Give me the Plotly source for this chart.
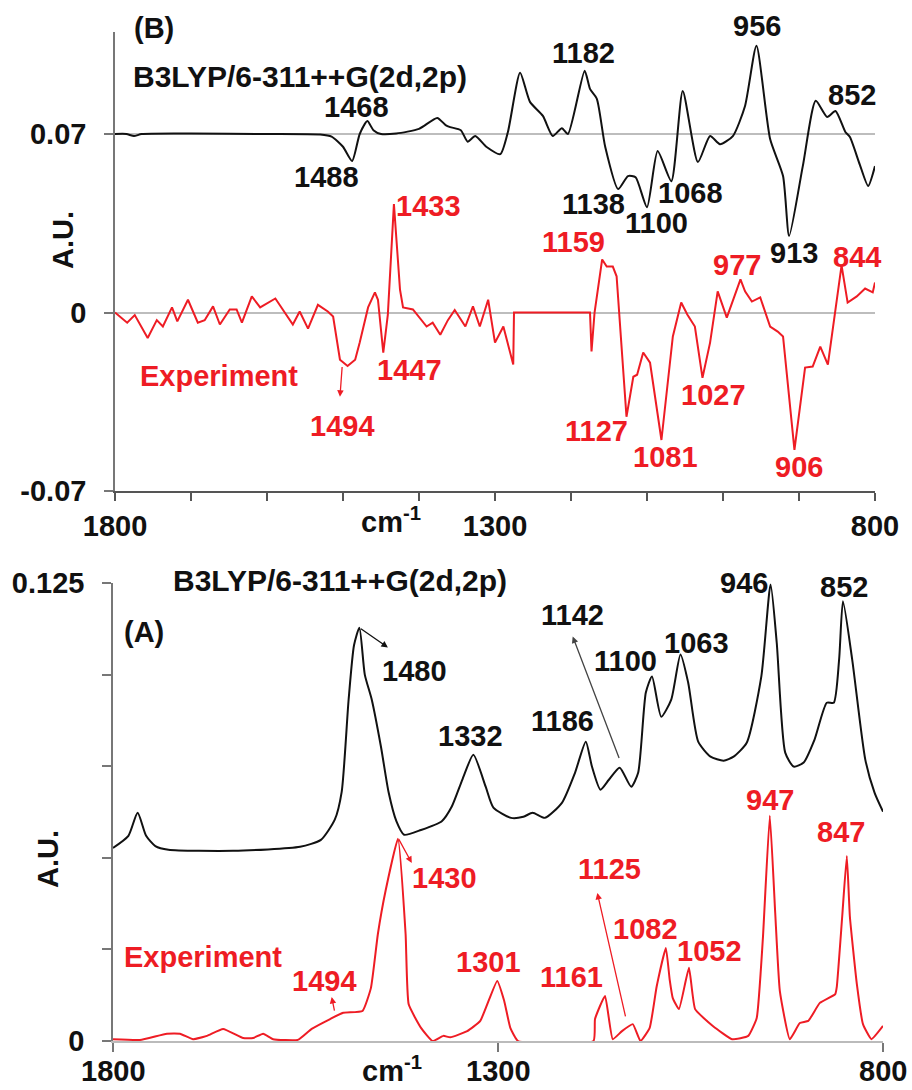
import plotly.graph_objects as go

# ---------------- spectra (wavenumber in cm-1, intensity in A.U.) ----------------
# Panel B: calculated (B3LYP) and experimental difference spectra
calc_b_wn = [1800, 1785, 1775, 1765, 1700, 1600, 1530, 1515, 1500, 1488, 1478, 1468, 1460, 1450,
             1430, 1400, 1376, 1365, 1359, 1345, 1336, 1326, 1311, 1293, 1283, 1267, 1254, 1237,
             1224, 1212, 1204, 1182, 1175, 1166, 1155, 1138, 1125, 1115, 1100, 1086, 1068, 1053,
             1033, 1017, 1004, 987, 971, 956, 938, 921, 913, 895, 878, 863, 852, 839, 833, 820,
             809, 800]
calc_b_au = [0.0700, 0.0700, 0.0692, 0.0700, 0.0702, 0.0700, 0.0698, 0.0690, 0.0650, 0.0594,
             0.0700, 0.0751, 0.0715, 0.0700, 0.0702, 0.0720, 0.0763, 0.0735, 0.0727, 0.0715,
             0.0670, 0.0692, 0.0649, 0.0621, 0.0708, 0.0940, 0.0826, 0.0771, 0.0692, 0.0723,
             0.0700, 0.0948, 0.0877, 0.0838, 0.0650, 0.0484, 0.0535, 0.0530, 0.0413, 0.0633,
             0.0515, 0.0869, 0.0590, 0.0692, 0.0660, 0.0692, 0.0810, 0.1046, 0.0680, 0.0535,
             0.0300, 0.0574, 0.0830, 0.0767, 0.0790, 0.0708, 0.0688, 0.0580, 0.0496, 0.0574]

exp_b_wn = [1800, 1784, 1774, 1757, 1745, 1737, 1725, 1718, 1704, 1691, 1682, 1671, 1662, 1649,
            1640, 1633, 1620, 1609, 1589, 1579, 1566, 1557, 1546, 1533, 1520, 1513, 1504, 1494,
            1484, 1478, 1467, 1458, 1454, 1447, 1441, 1433, 1425, 1421, 1408, 1390, 1382, 1372,
            1362, 1353, 1339, 1329, 1320, 1309, 1300, 1289, 1276, 1275, 1175, 1173, 1169, 1159,
            1153, 1145, 1140, 1127, 1118, 1113, 1105, 1096, 1081, 1066, 1055, 1047, 1037, 1027,
            1017, 1007, 995, 977, 971, 962, 951, 938, 928, 921, 906, 892, 882, 872, 862, 844,
            836, 824, 813, 803, 800]
exp_b_au = [0.0, -0.0040, -0.0010, -0.0100, -0.0030, -0.0055, 0.0020, -0.0035, 0.0050, -0.0040,
            -0.0030, 0.0024, -0.0047, 0.0012, 0.0012, -0.0040, 0.0063, 0.0020, 0.0055, 0.0012,
            -0.0047, 0.0004, -0.0063, 0.0030, 0.0004, -0.0016, -0.0185, -0.0210, -0.0185,
            -0.0118, 0.0020, 0.0079, 0.0050, -0.0157, -0.0008, 0.0425, 0.0090, 0.0020, 0.0012,
            -0.0055, -0.0040, -0.0087, -0.0030, 0.0010, -0.0055, 0.0024, -0.0055, 0.0050,
            -0.0118, -0.0055, -0.0204, 0.0, 0.0, -0.0153, 0.0, 0.0208, 0.0180, 0.0180, 0.0142,
            -0.0409, -0.0252, -0.0244, -0.0157, -0.0197, -0.0500, -0.0094, 0.0039, -0.0008,
            -0.0055, -0.0256, -0.0118, 0.0083, -0.0020, 0.0130, 0.0083, 0.0043, 0.0059, -0.0055,
            -0.0075, -0.0094, -0.0539, -0.0216, -0.0212, -0.0134, -0.0204, 0.0185, 0.0039,
            0.0063, 0.0094, 0.0079, 0.0118]

# Panel A: calculated (B3LYP) and experimental spectra
calc_a_wn = [1800, 1780, 1768, 1757, 1745, 1728, 1644, 1557, 1530, 1512, 1503, 1494, 1487, 1480,
             1473, 1464, 1452, 1442, 1432, 1422, 1400, 1373, 1360, 1346, 1332, 1316, 1306, 1283,
             1267, 1255, 1239, 1217, 1200, 1186, 1178, 1167, 1156, 1142, 1127, 1118, 1108, 1100,
             1088, 1075, 1063, 1053, 1040, 1024, 1007, 994, 977, 958, 946, 938, 927, 916, 903,
             889, 873, 864, 857, 852, 840, 823, 811, 800]
calc_a_au = [0.0527, 0.0560, 0.0623, 0.0560, 0.0532, 0.0522, 0.0519, 0.0530, 0.0549, 0.0604,
             0.0680, 0.0932, 0.1080, 0.1128, 0.1000, 0.0932, 0.0803, 0.0678, 0.0600, 0.0563,
             0.0576, 0.0600, 0.0640, 0.0715, 0.0781, 0.0694, 0.0637, 0.0609, 0.0612, 0.0623,
             0.0609, 0.0650, 0.0732, 0.0817, 0.0749, 0.0686, 0.0713, 0.0746, 0.0694, 0.0732,
             0.0951, 0.0995, 0.0885, 0.0932, 0.1055, 0.0978, 0.0817, 0.0776, 0.0765, 0.0776,
             0.0814, 0.0995, 0.1246, 0.1087, 0.0787, 0.0749, 0.0760, 0.0822, 0.0923, 0.0923,
             0.1041, 0.1200, 0.1041, 0.0768, 0.0678, 0.0626]

exp_a_wn = [1800, 1765, 1730, 1713, 1696, 1678, 1657, 1631, 1618, 1605, 1592, 1560, 1542, 1518,
            1501, 1476, 1465, 1456, 1446, 1430, 1420, 1416, 1400, 1385, 1371, 1362, 1340, 1323,
            1301, 1292, 1284, 1274, 1176, 1174, 1161, 1151, 1139, 1125, 1115, 1103, 1094, 1082,
            1077, 1073, 1065, 1052, 1044, 1021, 996, 975, 964, 956, 947, 940, 934, 921, 908, 897,
            882, 862, 860, 853, 847, 843, 834, 826, 815, 800]
exp_a_au = [0.0005, 0.0003, 0.0020, 0.0020, 0.0005, 0.0014, 0.0033, 0.0008, 0.0008, 0.0020,
            0.0005, 0.0003, 0.0033, 0.0060, 0.0077, 0.0082, 0.0145, 0.0292, 0.0410, 0.0552,
            0.0292, 0.0100, 0.0036, 0.0, 0.0014, 0.0010, 0.0027, 0.0055, 0.0164, 0.0110, 0.0036,
            0.0, 0.0, 0.0060, 0.0123, 0.0005, 0.0027, 0.0046, 0.0, 0.0036, 0.0148, 0.0254,
            0.0167, 0.0117, 0.0087, 0.0200, 0.0087, 0.0041, 0.0005, 0.0014, 0.0063, 0.0280,
            0.0615, 0.0350, 0.0137, 0.0005, 0.0049, 0.0055, 0.0104, 0.0128, 0.0148, 0.0339,
            0.0505, 0.0339, 0.0156, 0.0046, 0.0005, 0.0041]

# labelled wavenumbers on the lower axis
bottom_x_ticks = [1800, 1300, 800]

BLACK = "#111111"
RED = "#ee1c24"
FONT = "Liberation Sans, Arial, sans-serif"
W, H = 912, 1090

fig = go.Figure()
fig.add_trace(go.Scatter(x=calc_b_wn, y=calc_b_au, mode="lines", xaxis="x", yaxis="y",
                         line=dict(color=BLACK, width=2, shape="spline", smoothing=0.6),
                         showlegend=False))
fig.add_trace(go.Scatter(x=exp_b_wn, y=exp_b_au, mode="lines", xaxis="x", yaxis="y",
                         line=dict(color=RED, width=2), showlegend=False))
fig.add_trace(go.Scatter(x=calc_a_wn, y=calc_a_au, mode="lines", xaxis="x2", yaxis="y2",
                         line=dict(color=BLACK, width=2, shape="spline", smoothing=0.6),
                         showlegend=False))
fig.add_trace(go.Scatter(x=exp_a_wn, y=exp_a_au, mode="lines", xaxis="x2", yaxis="y2",
                         line=dict(color=RED, width=2, shape="spline", smoothing=0.4),
                         showlegend=False))

# ---------------- text labels ----------------
# labels placed in axis units
labels_b = [
    ("1468", 1482, 0.0806, BLACK), ("1488", 1522, 0.0531, BLACK),
    ("1182", 1184, 0.1018, BLACK), ("852", 830, 0.0853, BLACK),
    ("1138", 1171, 0.0425, BLACK), ("1100", 1087, 0.0350, BLACK), ("1068", 1043, 0.0468, BLACK),
    ("913", 907, 0.0232, BLACK),
    ("1433", 1387, 0.0417, RED), ("1447", 1412, -0.0224, RED), ("1494", 1501, -0.0444, RED),
    ("Experiment", 1663, -0.0248, RED), ("1159", 1197, 0.0275, RED), ("1127", 1166, -0.0464, RED),
    ("1081", 1076, -0.0566, RED), ("1027", 1013, -0.0322, RED), ("977", 982, 0.0185, RED),
    ("906", 900, -0.0606, RED), ("844", 824, 0.0216, RED),
]
labels_a = [
    ("(A)", 1760, 0.1115, BLACK), ("1480", 1408, 0.1011, BLACK), ("1332", 1336, 0.0833, BLACK),
    ("1186", 1216, 0.0872, BLACK), ("1142", 1203, 0.1164, BLACK), ("1100", 1135, 0.1038, BLACK),
    ("1063", 1042, 0.1087, BLACK), ("852", 851, 0.1240, BLACK),
    ("1430", 1369, 0.0445, RED), ("Experiment", 1683, 0.0230, RED), ("1494", 1525, 0.0164, RED),
    ("1301", 1312, 0.0216, RED), ("1161", 1204, 0.0175, RED), ("1125", 1155, 0.0470, RED),
    ("1082", 1108, 0.0306, RED), ("1052", 1025, 0.0246, RED), ("947", 947, 0.0658, RED),
    ("847", 855, 0.0571, RED),
]
# labels sitting above the plotting ranges, placed in page pixels
labels_px = [("(B)", 154, 28, BLACK, "center", 29), ("956", 757, 26, BLACK, "center", 29),
             ("946", 744, 583, BLACK, "center", 29),
             ("B3LYP/6-311++G(2d,2p)", 131, 77, BLACK, "left", 30),
             ("B3LYP/6-311++G(2d,2p)", 171, 580, BLACK, "left", 30)]
# arrows: (tail wn, tail au, head wn, head au, colour)
arrows_b = [(1501, -0.0208, 1504, -0.0330, RED)]
arrows_a = [
    (1480, 0.1128, 1443, 0.1074, BLACK), (1142, 0.0768, 1203, 0.1104, "#444444"),
    (1430, 0.0555, 1412, 0.0486, RED), (1134, 0.0063, 1171, 0.0404, RED),
    (1512, 0.0079, 1516, 0.0120, RED),
]

LABEL_SIZE = 29
annotations = []
def add_labels(items, xr, yr):
    for txt, x, y, c in items:
        annotations.append(dict(text=txt, x=x, y=y, xref=xr, yref=yr, showarrow=False,
                                xanchor="center", yanchor="middle",
                                font=dict(family=FONT, size=LABEL_SIZE, color=c, weight="bold")))

def add_arrows(items, xr, yr):
    for x0, y0, x1, y1, c in items:
        annotations.append(dict(text="", x=x1, y=y1, ax=x0, ay=y0, xref=xr, yref=yr,
                                axref=xr, ayref=yr, showarrow=True, arrowhead=2,
                                arrowsize=1, arrowwidth=1.3, arrowcolor=c, standoff=0))

add_labels(labels_b, "x", "y")
add_labels(labels_a, "x2", "y2")
add_arrows(arrows_b, "x", "y")
add_arrows(arrows_a, "x2", "y2")
for txt, px, py, c, anchor, size in labels_px:
    annotations.append(dict(text=txt, x=px / W, y=1 - py / H, xref="paper", yref="paper",
                            showarrow=False, xanchor=anchor, yanchor="middle",
                            font=dict(family=FONT, size=size, color=c, weight="bold")))
# lower-axis tick labels, kept just inside the page edge
for v in bottom_x_ticks:
    annotations.append(dict(text=str(v), x=v, y=1 - 1071 / H, xref="x2", yref="paper",
                            showarrow=False, xanchor="center", yanchor="middle",
                            font=dict(family=FONT, size=LABEL_SIZE, color=BLACK, weight="bold")))
# axis titles
for px, py in [(63, 240), (48, 859)]:
    annotations.append(dict(text="A.U.", x=px / W, y=1 - py / H, xref="paper", yref="paper",
                            showarrow=False, textangle=-90, xanchor="center", yanchor="middle",
                            font=dict(family=FONT, size=LABEL_SIZE, color=BLACK, weight="bold")))
for px, py in [(391, 520), (392, 1069)]:
    annotations.append(dict(text="cm<sup>-1</sup>", x=px / W, y=1 - py / H, xref="paper",
                            yref="paper", showarrow=False, xanchor="center", yanchor="middle",
                            font=dict(family=FONT, size=LABEL_SIZE, color=BLACK, weight="bold")))

tickfont = dict(family=FONT, size=29, color=BLACK, weight="bold")
top_x_ticks = list(range(1800, 799, -100))

fig.update_layout(
    width=W, height=H, margin=dict(l=0, r=0, t=0, b=0, autoexpand=False),
    paper_bgcolor="white", plot_bgcolor="white",
    annotations=annotations,
    xaxis=dict(domain=[115 / W, 875 / W], anchor="y", range=[1800, 800], automargin=False,
               showgrid=False, zeroline=False, showline=True, linecolor="#555555", linewidth=1.5,
               ticks="outside", ticklen=8, tickcolor="#555555", tickwidth=1.5,
               tickvals=top_x_ticks,
               ticktext=[str(v) if v in (1800, 1300, 800) else "" for v in top_x_ticks],
               tickfont=tickfont, ticklabelstandoff=0),
    yaxis=dict(domain=[1 - 491 / H, 1 - 32 / H], anchor="x", range=[-0.07, 0.11],
               automargin=False,
               showgrid=True, gridcolor="#bdbdbd", gridwidth=1.5, zeroline=False,
               showline=True, linecolor="#777777", linewidth=1.5,
               ticks="outside", ticklen=9, tickcolor="#777777", tickwidth=1.5,
               tickvals=[-0.07, 0, 0.07], ticktext=["-0.07", "0", "0.07"],
               tickfont=tickfont, ticklabelstandoff=12),
    xaxis2=dict(domain=[113 / W, 883 / W], anchor="y2", range=[1800, 800], automargin=False,
                showgrid=False, zeroline=False, showline=True, linecolor="#bbbbbb", linewidth=1.5,
                ticks="outside", ticklen=9, tickcolor="#777777", tickwidth=1.5,
                tickvals=bottom_x_ticks, showticklabels=False),
    yaxis2=dict(domain=[1 - 1041 / H, 1 - 583 / H], anchor="x2", range=[0, 0.125],
                automargin=False,
                showgrid=False, zeroline=False, showline=True, linecolor="#777777", linewidth=1.5,
                ticks="outside", ticklen=9, tickcolor="#777777", tickwidth=1.5,
                tickvals=[0, 0.025, 0.05, 0.075, 0.1, 0.125],
                ticktext=["0", "", "", "", "", "0.125"],
                tickfont=tickfont, ticklabelstandoff=12),
)

fig.write_html("out.html")
